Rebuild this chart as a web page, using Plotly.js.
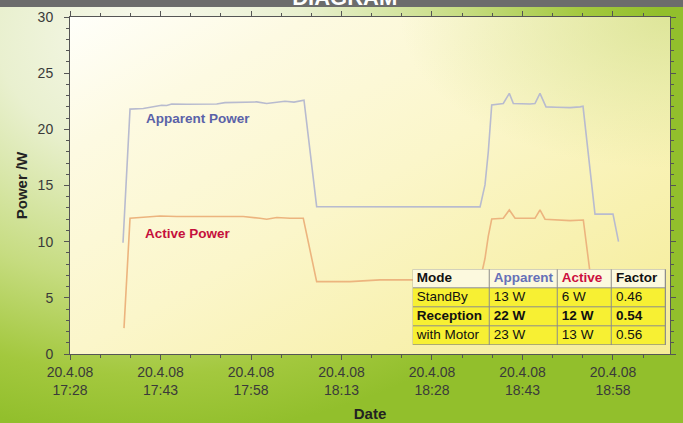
<!DOCTYPE html>
<html>
<head>
<meta charset="utf-8">
<script src="https://cdn.plot.ly/plotly-3.0.1.min.js"></script>
<style>
  html, body { margin: 0; padding: 0; }
  #chart {
    width: 683px; height: 423px;
    background: radial-gradient(ellipse 75% 95% at 22% 8%, #f8f9ee 0%, #e9f0cf 30%, #c6dc80 62%, #a3c83e 85%, #92bf2c 100%);
  }
</style>
</head>
<body>
<div id="chart"></div>
<script>
// ---- data ----
const day = '2008-04-20 ';

const apparentTimes = ['17:36:47','17:37:57','17:40:09','17:41:49','17:43:12','17:44:02','17:44:51','17:47:21','17:49:33','17:52:19','17:53:41','17:56:11','17:58:57','18:00:36','18:02:16','18:03:38','18:05:08','18:06:47','18:08:53','18:22:42','18:35:58','18:36:47','18:37:20','18:37:54','18:39:49','18:40:49','18:41:29','18:44:15','18:45:04','18:45:54','18:46:54','18:48:40','18:50:53','18:52:32','18:53:02','18:55:01','18:58:00','18:58:55'];
const apparentValues = [9.9,21.8,21.85,22.0,22.14,22.12,22.26,22.23,22.22,22.26,22.38,22.38,22.44,22.3,22.4,22.5,22.42,22.6,13.12,13.1,13.1,15.05,18.0,22.17,22.3,23.2,22.3,22.26,22.3,23.2,22.0,21.96,21.93,22.0,22.05,12.45,12.45,10.0];

const activeTimes = ['17:36:57','17:37:57','17:40:09','17:42:55','17:45:41','17:48:23','17:51:12','17:53:58','17:56:43','17:59:29','18:00:36','18:02:16','18:04:28','18:06:40','18:08:53','18:14:25','18:19:23','18:24:21','18:35:58','18:36:47','18:37:20','18:37:54','18:39:49','18:40:49','18:41:46','18:45:04','18:45:54','18:46:44','18:48:40','18:50:53','18:53:05','18:54:28','18:58:00','18:58:55'];
const activeValues = [2.3,12.08,12.17,12.29,12.24,12.24,12.24,12.29,12.24,12.08,12.0,12.15,12.08,12.08,6.44,6.44,6.6,6.6,6.5,8.5,10.5,12.02,12.08,12.82,12.08,12.08,12.82,12.0,11.93,11.87,11.93,6.1,5.97,3.5];

const tickTimes = ['17:28','17:43','17:58','18:13','18:28','18:43','18:58'];
const tickLabels = tickTimes.map(t => '20.4.08<br>' + t);

// summary table
const tableHeader = ['Mode','Apparent','Active','Factor'];
const tableModes = ['StandBy','Reception','with Motor'];
const tableApparent = ['13 W','22 W','23 W'];
const tableActive = ['6 W','12 W','13 W'];
const tableFactor = ['0.46','0.54','0.56'];
const boldRow = 'Reception';

// ---- styling ----
const FONT = 'Liberation Sans, Arial, sans-serif';
const AX = '#555555';
const colWidths = [77, 68, 54, 54];
const headerColors = ['#111111', '#6670b8', '#cc1040', '#111111'];

// column edges for table layout (from widths)
const colEdges = [0];
colWidths.forEach(w => colEdges.push(colEdges[colEdges.length - 1] + w));
const tableW = colEdges[colEdges.length - 1];
const nRows = tableModes.length + 1;
const rowEdges = Array.from({length: nRows + 1}, (_, i) => i);

// cell fill index: 1 = header, 0 = body
const cellZ = rowEdges.slice(0, nRows).map(r => colWidths.map(() => (r === 0 ? 1 : 0)));

// texts for cells
const columns = [tableModes, tableApparent, tableActive, tableFactor];
const txtX = [], txtY = [], txtS = [], txtC = [];
tableHeader.forEach((h, c) => {
  txtX.push(colEdges[c] + 4); txtY.push(0.5); txtS.push('<b>' + h + '</b>'); txtC.push(headerColors[c]);
});
tableModes.forEach((m, r) => {
  columns.forEach((col, c) => {
    const v = col[r];
    txtX.push(colEdges[c] + 4); txtY.push(r + 1.5);
    txtS.push(m === boldRow ? '<b>' + v + '</b>' : v);
    txtC.push('#111111');
  });
});

const plotBgSvg = '<svg xmlns="http://www.w3.org/2000/svg" width="600" height="337" viewBox="0 0 600 337" preserveAspectRatio="none">' +
  '<defs>' +
  '<linearGradient id="g" x1="0" y1="0" x2="1" y2="1">' +
  '<stop offset="0" stop-color="#fffffa"/>' +
  '<stop offset="0.2" stop-color="#fdfae2"/>' +
  '<stop offset="0.5" stop-color="#fbf6ca"/>' +
  '<stop offset="1" stop-color="#f5ec96"/>' +
  '</linearGradient>' +
  '<radialGradient id="r" cx="1" cy="0" r="0.45">' +
  '<stop offset="0" stop-color="#d4e08a" stop-opacity="0.75"/>' +
  '<stop offset="1" stop-color="#d4e08a" stop-opacity="0"/>' +
  '</radialGradient>' +
  '</defs>' +
  '<rect width="600" height="337" fill="url(#g)"/>' +
  '<rect width="600" height="337" fill="url(#r)"/>' +
  '</svg>';

const traces = [
  {
    type: 'scatter', mode: 'lines',
    x: apparentTimes.map(t => day + t), y: apparentValues,
    line: {color: '#b8bbcf', width: 1.6},
    hoverinfo: 'skip', showlegend: false
  },
  {
    type: 'scatter', mode: 'lines',
    x: activeTimes.map(t => day + t), y: activeValues,
    line: {color: '#ecb47e', width: 1.6},
    hoverinfo: 'skip', showlegend: false
  },
  {
    type: 'heatmap', xaxis: 'x2', yaxis: 'y2',
    x: colEdges, y: rowEdges, z: cellZ,
    zmin: 0, zmax: 1,
    colorscale: [[0, '#f7f033'], [1, '#fcf9de']],
    showscale: false, xgap: 1, ygap: 1,
    hoverinfo: 'skip'
  },
  {
    type: 'scatter', mode: 'text', xaxis: 'x2', yaxis: 'y2',
    x: txtX, y: txtY, text: txtS,
    textposition: 'middle right',
    textfont: {family: FONT, size: 13.5, color: txtC},
    hoverinfo: 'skip', showlegend: false, cliponaxis: false
  }
];

const layout = {
  width: 683, height: 423,
  margin: {l: 70, r: 13, t: 17, b: 69, pad: 0},
  paper_bgcolor: 'rgba(0,0,0,0)',
  plot_bgcolor: 'rgba(0,0,0,0)',
  font: {family: FONT, size: 14, color: '#333333'},
  showlegend: false,
  title: {
    text: '<b>DIAGRAM</b>',
    font: {family: FONT, size: 22, color: '#ffffff'},
    xref: 'paper', x: 0.458, xanchor: 'center',
    yref: 'container', y: 0.988, yanchor: 'bottom'
  },
  xaxis: {
    type: 'date',
    range: [day + '17:28:00', day + '19:07:27'],
    tickmode: 'array',
    tickvals: tickTimes.map(t => day + t),
    ticktext: tickLabels,
    ticks: 'outside', ticklen: 5, tickcolor: AX, tickwidth: 1,
    showline: true, linecolor: AX, linewidth: 1, mirror: 'ticks',
    showgrid: false, zeroline: false,
    tickfont: {family: FONT, size: 14, color: '#3a3a3a'},
    minor: {tickmode: 'linear', tick0: day + '17:28', dtick: 300000, ticks: 'outside', ticklen: 3, tickcolor: AX, showgrid: false},
    title: {text: '<b>Date</b>', font: {family: FONT, size: 15, color: '#222222'}, standoff: 11}
  },
  yaxis: {
    range: [0, 30],
    tickmode: 'linear', tick0: 0, dtick: 5,
    ticks: 'outside', ticklen: 5, tickcolor: AX, tickwidth: 1,
    ticklabelstandoff: 8,
    showline: true, linecolor: AX, linewidth: 1, mirror: 'ticks',
    showgrid: false, zeroline: false,
    tickfont: {family: FONT, size: 14, color: '#3a3a3a'},
    minor: {tickmode: 'linear', tick0: 0, dtick: 1, ticks: 'outside', ticklen: 3, tickcolor: AX, showgrid: false},
    title: {text: '<b>Power /W</b>', font: {family: FONT, size: 15, color: '#222222'}, standoff: 6}
  },
  xaxis2: {
    domain: [0.5712, 0.9933], range: [0, tableW], anchor: 'y2',
    visible: false, fixedrange: true
  },
  yaxis2: {
    domain: [0.0267, 0.2513], range: [nRows, 0], anchor: 'x2',
    visible: false, fixedrange: true
  },
  images: [{
    source: 'data:image/svg+xml;charset=utf-8,' + encodeURIComponent(plotBgSvg),
    xref: 'paper', yref: 'paper', x: 0, y: 1, sizex: 1, sizey: 1,
    sizing: 'stretch', layer: 'below', xanchor: 'left', yanchor: 'top'
  }],
  shapes: [
    {
      type: 'rect', xref: 'paper', yref: 'paper',
      x0: -0.2, x1: 1.2, y0: 1.0297, y1: 1.2,
      fillcolor: '#6c6c6c', line: {width: 0}, layer: 'above'
    },
    {
      type: 'rect', xref: 'x2', yref: 'y2',
      x0: -0.8, x1: tableW + 0.8, y0: -0.05, y1: nRows + 0.05,
      fillcolor: '#8c8c8c', line: {width: 0}, layer: 'below'
    }
  ],
  annotations: [
    {text: '<b>Apparent Power</b>', xref: 'paper', yref: 'paper', x: 0.1233, y: 0.700,
     xanchor: 'left', yanchor: 'middle', showarrow: false,
     font: {family: FONT, size: 13.5, color: '#5a62a8'}},
    {text: '<b>Active Power</b>', xref: 'paper', yref: 'paper', x: 0.1217, y: 0.359,
     xanchor: 'left', yanchor: 'middle', showarrow: false,
     font: {family: FONT, size: 13.5, color: '#c5103c'}}
  ]
};

Plotly.newPlot('chart', traces, layout, {displayModeBar: false, staticPlot: true});
</script>
</body>
</html>
